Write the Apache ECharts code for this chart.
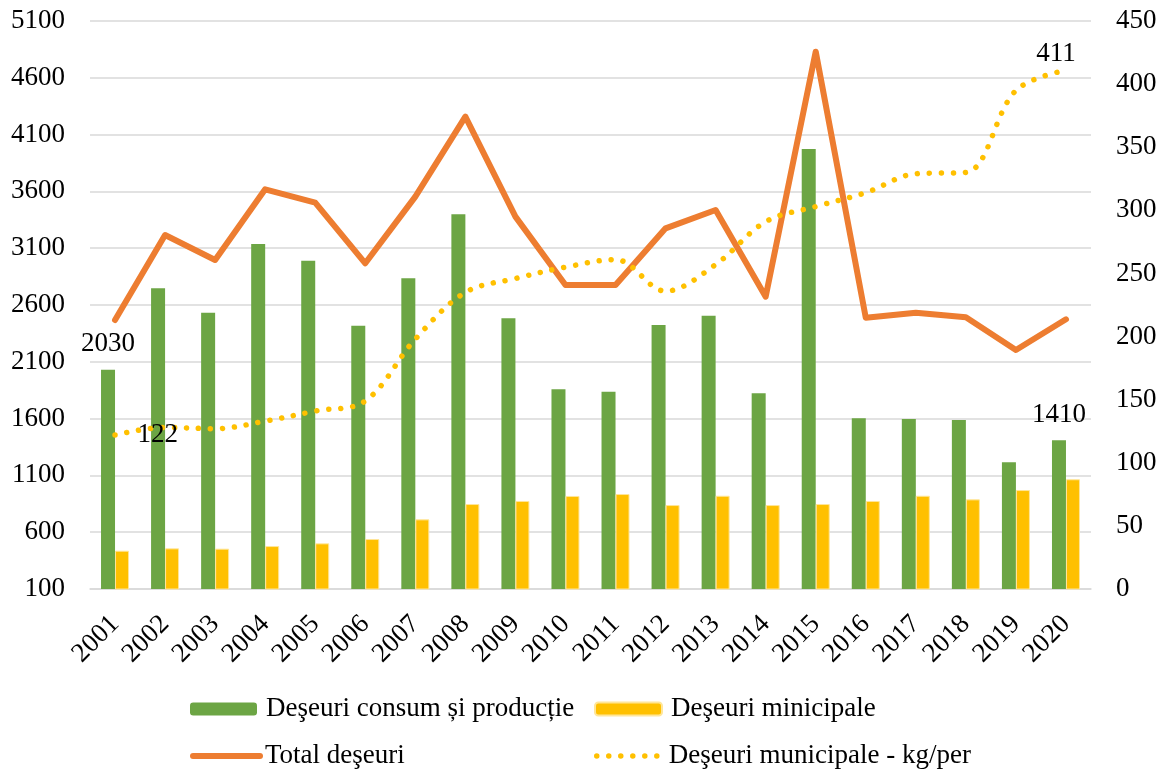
<!DOCTYPE html>
<html lang="ro">
<head>
<meta charset="UTF-8" />
<title>Deşeuri</title>
<script src="https://cdn.jsdelivr.net/npm/echarts@6/dist/echarts.min.js"></script>
<style>
    * { margin: 0; padding: 0; }
    body { background: #fff; }
    #chart { width: 1166px; height: 773px; }
</style>
</head>
<body>
<div id="chart"></div>
<script type="text/javascript">
    // values
    var years = ['2001', '2002', '2003', '2004', '2005', '2006', '2007', '2008', '2009', '2010',
        '2011', '2012', '2013', '2014', '2015', '2016', '2017', '2018', '2019', '2020'];
    var consumProductie = [2030, 2747, 2532, 3137, 2990, 2418, 2835, 3398, 2483, 1858,
        1837, 2424, 2506, 1823, 3973, 1603, 1597, 1588, 1215, 1410];
    var municipale = [437, 458, 455, 478, 502, 540, 713, 848, 875, 919,
        936, 839, 921, 839, 848, 875, 921, 889, 971, 1066];
    var totalDeseuri = [2468, 3216, 2996, 3618, 3501, 2967, 3554, 4258, 3378, 2776,
        2776, 3275, 3436, 2673, 4830, 2488, 2532, 2492, 2204, 2474];
    var kgPerLocuitor = [122, 128, 127, 133, 141, 149, 198, 235, 246, 255,
        261, 236, 257, 291, 303, 314, 329, 330, 395, 411];

    var names = ['Deşeuri consum și producție', 'Deşeuri minicipale', 'Total deşeuri', 'Deşeuri municipale - kg/per'];
    var font = 'Liberation Serif';

    var myChart = echarts.init(document.getElementById('chart'));

    // only first and last points carry a value label
    function withEndLabels(arr, firstLabel, lastLabel) {
        return arr.map(function (v, i) {
            if (i === 0 && firstLabel) return { value: v, label: firstLabel };
            if (i === arr.length - 1 && lastLabel) return { value: v, label: lastLabel };
            return v;
        });
    }

    var barLabel = { show: true, position: 'top', distance: 12, fontFamily: font, fontSize: 27, color: '#000' };

    function legendBox(name, left, top, pad, extra) {
        var l = {
            data: [name],
            left: left,
            top: top,
            padding: 0,
            itemWidth: 67,
            itemHeight: 13,
            textStyle: { fontFamily: font, fontSize: 27, color: '#000', lineHeight: 30, padding: [0, 0, 0, pad] }
        };
        return Object.assign(l, extra || {});
    }

    var plain = function (v) { return String(v); };

    var option = {
        animation: false,
        grid: { left: 90, right: 75, top: 21, bottom: 184 },
        legend: [
            legendBox(names[0], 190, 694, 4),
            legendBox(names[1], 594, 694, 4),
            legendBox(names[2], 190, 741, 0, { itemStyle: { opacity: 0 }, lineStyle: { width: 6, cap: 'round' } }),
            legendBox(names[3], 594, 741, 0, { itemStyle: { opacity: 0 }, lineStyle: { width: 5.5, cap: 'round' } })
        ],
        xAxis: {
            type: 'category',
            data: years,
            axisLine: { lineStyle: { color: '#d9d9d9', width: 1.5 } },
            axisTick: { show: false },
            axisLabel: {
                interval: 0,
                rotate: 45,
                margin: 31,
                fontFamily: font,
                fontSize: 27,
                color: '#000'
            }
        },
        yAxis: [
            {
                type: 'value',
                min: 100,
                max: 5100,
                interval: 500,
                axisLine: { show: false },
                axisTick: { show: false },
                splitLine: { lineStyle: { color: '#d9d9d9', width: 1.5 } },
                axisLabel: { margin: 25, formatter: plain, fontFamily: font, fontSize: 27, color: '#000' }
            },
            {
                type: 'value',
                min: 0,
                max: 450,
                interval: 50,
                axisLine: { show: false },
                axisTick: { show: false },
                splitLine: { show: false },
                axisLabel: { margin: 25, formatter: plain, fontFamily: font, fontSize: 27, color: '#000' }
            }
        ],
        series: [
            {
                name: names[0],
                type: 'bar',
                barWidth: 14,
                barGap: '0%',
                itemStyle: { color: '#6ca544' },
                data: withEndLabels(consumProductie, barLabel, barLabel)
            },
            {
                name: names[1],
                type: 'bar',
                barWidth: 14,
                barGap: '0%',
                itemStyle: { color: '#ffc000', borderColor: '#ffe699', borderWidth: 1 },
                data: municipale
            },
            {
                name: names[2],
                type: 'line',
                symbol: 'none',
                lineStyle: { color: '#ed7d31', width: 6, cap: 'round', join: 'round' },
                itemStyle: { color: '#ed7d31' },
                data: totalDeseuri
            },
            {
                name: names[3],
                type: 'line',
                yAxisIndex: 1,
                symbol: 'circle',
                symbolSize: 1,
                showSymbol: true,
                smooth: 0.35,
                lineStyle: { color: '#ffc000', width: 5.5, type: [0.01, 12], cap: 'round' },
                itemStyle: { color: 'rgba(255,192,0,0)' },
                data: withEndLabels(kgPerLocuitor,
                    { show: true, position: 'right', distance: 22, fontFamily: font, fontSize: 27, color: '#000' },
                    { show: true, position: 'top', distance: 2, offset: [-10, 0], fontFamily: font, fontSize: 27, color: '#000' })
            }
        ]
    };

    myChart.setOption(option);
</script>
</body>
</html>
